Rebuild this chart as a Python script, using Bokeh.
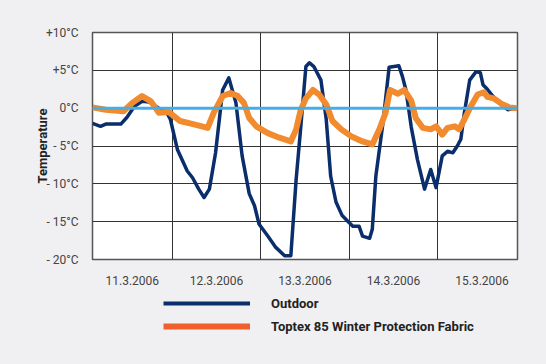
from bokeh.plotting import figure
from bokeh.layouts import column
from bokeh.models import (FixedTicker, Legend, LegendItem, Title, Range1d, Span)
from bokeh.embed import file_html
from bokeh.resources import INLINE

# ---- data (x = day of March 2006, fractional) ----
outdoor_x = [11.10, 11.19, 11.25, 11.42, 11.49, 11.57, 11.66, 11.74, 11.85, 11.94, 11.98,
             12.06, 12.17, 12.23, 12.30, 12.36, 12.42, 12.49, 12.57, 12.64, 12.72, 12.79,
             12.87, 12.93, 12.98, 13.08, 13.17, 13.27, 13.34, 13.40, 13.45, 13.51, 13.55,
             13.60, 13.68, 13.74, 13.79, 13.85, 13.92, 13.98, 14.04, 14.11, 14.15, 14.23,
             14.26, 14.30, 14.38, 14.45, 14.56, 14.60, 14.64, 14.70, 14.77, 14.85, 14.92,
             14.98, 15.05, 15.11, 15.17, 15.22, 15.26, 15.30, 15.36, 15.43, 15.48, 15.51,
             15.56, 15.62, 15.71, 15.79, 15.87]
outdoor_t = [-2.0, -2.4, -2.1, -2.1, -1.2, 0.2, 0.9, 0.8, 0.0, -0.6, -1.5,
             -5.5, -8.3, -9.2, -10.7, -11.8, -10.7, -5.9, 2.4, 4.0, 0.7, -6.3,
             -11.3, -12.9, -15.3, -16.9, -18.4, -19.5, -19.5, -9.4, -2.8, 5.5, 6.0,
             5.5, 3.7, -1.5, -9.0, -12.4, -14.2, -14.9, -15.6, -15.6, -16.9, -17.2,
             -16.0, -9.0, -2.0, 5.4, 5.6, 4.2, 2.4, -2.5, -6.8, -10.7, -8.1,
             -10.5, -6.3, -5.7, -5.9, -5.0, -4.1, -0.6, 3.7, 4.8, 4.7, 3.1,
             2.5, 1.6, 0.5, -0.2, 0.0]

fabric_x = [11.10, 11.25, 11.45, 11.55, 11.66, 11.76, 11.85, 11.96, 12.09, 12.27, 12.40,
            12.47, 12.57, 12.66, 12.74, 12.81, 12.87, 12.95, 13.08, 13.21, 13.34, 13.40,
            13.45, 13.51, 13.59, 13.66, 13.74, 13.81, 13.91, 14.02, 14.15, 14.26, 14.34,
            14.41, 14.46, 14.55, 14.62, 14.70, 14.75, 14.83, 14.92, 14.98, 15.05, 15.11,
            15.19, 15.24, 15.30, 15.37, 15.45, 15.52, 15.56, 15.63, 15.73, 15.81, 15.90]
fabric_t = [0.1, -0.2, -0.4, 0.7, 1.6, 0.9, -0.6, -0.5, -1.7, -2.2, -2.6,
            -0.6, 1.6, 2.0, 1.6, 0.7, -1.3, -2.4, -3.3, -3.9, -4.4, -2.8,
            -0.3, 1.3, 2.4, 1.8, 0.5, -1.7, -2.8, -3.7, -4.4, -4.8, -2.8,
            -0.6, 2.4, 1.9, 2.4, 1.0, -1.3, -2.6, -2.8, -2.4, -3.5, -2.6,
            -2.4, -2.8, -1.5, 0.2, 1.8, 2.1, 1.5, 1.3, 0.5, 0.1, 0.0]

day_ticks = [11.55, 12.5, 13.5, 14.5, 15.5]
day_labels = ["11.3.2006", "12.3.2006", "13.3.2006", "14.3.2006", "15.3.2006"]
day_lines = [12, 13, 14, 15]
temp_ticks = [-20, -15, -10, -5, 0, 5, 10]
temp_labels = ["- 20°C", "- 15°C", "- 10°C", "- 5°C", "0°C", "+5°C", "+10°C"]
series_names = ["Outdoor", "Toptex 85 Winter Protection Fabric"]

FONT = "Roboto"
BG = "#f0f0f2"
NAVY = "#0a2d6c"
ORANGE = "#f28a2e"
ORANGE_LEG = "#f0602e"
ZERO = "#45aee6"

p = figure(width=546, height=287, output_backend="svg", toolbar_location=None,
           x_range=Range1d(11.1, 15.9), y_range=Range1d(-20, 10),
           min_border_left=92, min_border_right=29, min_border_top=32, min_border_bottom=28)
p.background_fill_color = "white"
p.border_fill_color = BG
p.outline_line_color = "#555555"
p.outline_line_width = 1.5

# axes
p.xaxis.ticker = FixedTicker(ticks=day_ticks)
p.xaxis.major_label_overrides = {t: l for t, l in zip(day_ticks, day_labels)}
p.yaxis.ticker = FixedTicker(ticks=temp_ticks)
p.yaxis.major_label_overrides = {t: l for t, l in zip(temp_ticks, temp_labels)}
for ax in (p.xaxis, p.yaxis):
    ax.axis_line_color = None
    ax.major_tick_line_color = None
    ax.minor_tick_line_color = None
    ax.major_label_text_font = FONT
    ax.major_label_text_font_size = "12px"
    ax.major_label_text_color = "#444444"
p.yaxis.major_label_standoff = 8
p.xaxis.major_label_standoff = 10

# grid
p.xgrid.ticker = FixedTicker(ticks=day_lines)
p.ygrid.ticker = FixedTicker(ticks=[-15, -10, -5, 5])
for g in (p.xgrid, p.ygrid):
    g.grid_line_color = "#333333"
    g.grid_line_width = 1

# zero line
p.add_layout(Span(location=0, dimension="width", line_color=ZERO, line_width=3))

# series
p.line(outdoor_x, outdoor_t, line_color=NAVY, line_width=3.5, line_join="round")
p.line(fabric_x, fabric_t, line_color=ORANGE, line_width=6, line_join="round")

# y title
ytitle = Title(text="Temperature", text_font=FONT, text_font_style="bold",
               text_font_size="13px", text_color="#222222", align="center", offset=16)
try:
    ytitle.standoff = -14
except Exception:
    ytitle.standoff = 0
p.add_layout(ytitle, "left")

# legend strip below the chart
lf = figure(width=546, height=77, output_backend="svg", toolbar_location=None,
            x_axis_type=None, y_axis_type=None,
            min_border_left=0, min_border_right=0, min_border_top=0, min_border_bottom=0)
lf.background_fill_color = BG
lf.border_fill_color = BG
lf.outline_line_color = None
lg1 = lf.line(outdoor_x[:1], outdoor_t[:1], line_color=NAVY, line_width=4)
lg2 = lf.line(fabric_x[:1], fabric_t[:1], line_color=ORANGE_LEG, line_width=6)
legend = Legend(items=[LegendItem(label=series_names[0], renderers=[lg1]),
                       LegendItem(label=series_names[1], renderers=[lg2])],
                location=(71, 28), orientation="vertical",
                glyph_width=87, glyph_height=20, spacing=3, label_standoff=21,
                padding=0, margin=0, label_height=20,
                background_fill_alpha=0, border_line_color=None,
                label_text_font=FONT, label_text_font_style="bold",
                label_text_font_size="13px", label_text_color="#222222")
lf.add_layout(legend, "center")

layout = column(p, lf, spacing=0, styles={"background-color": BG})
html = file_html(layout, INLINE)
html = html.replace("<body>", '<body style="background:%s;">' % BG, 1)
open("out.html", "w").write(html)
